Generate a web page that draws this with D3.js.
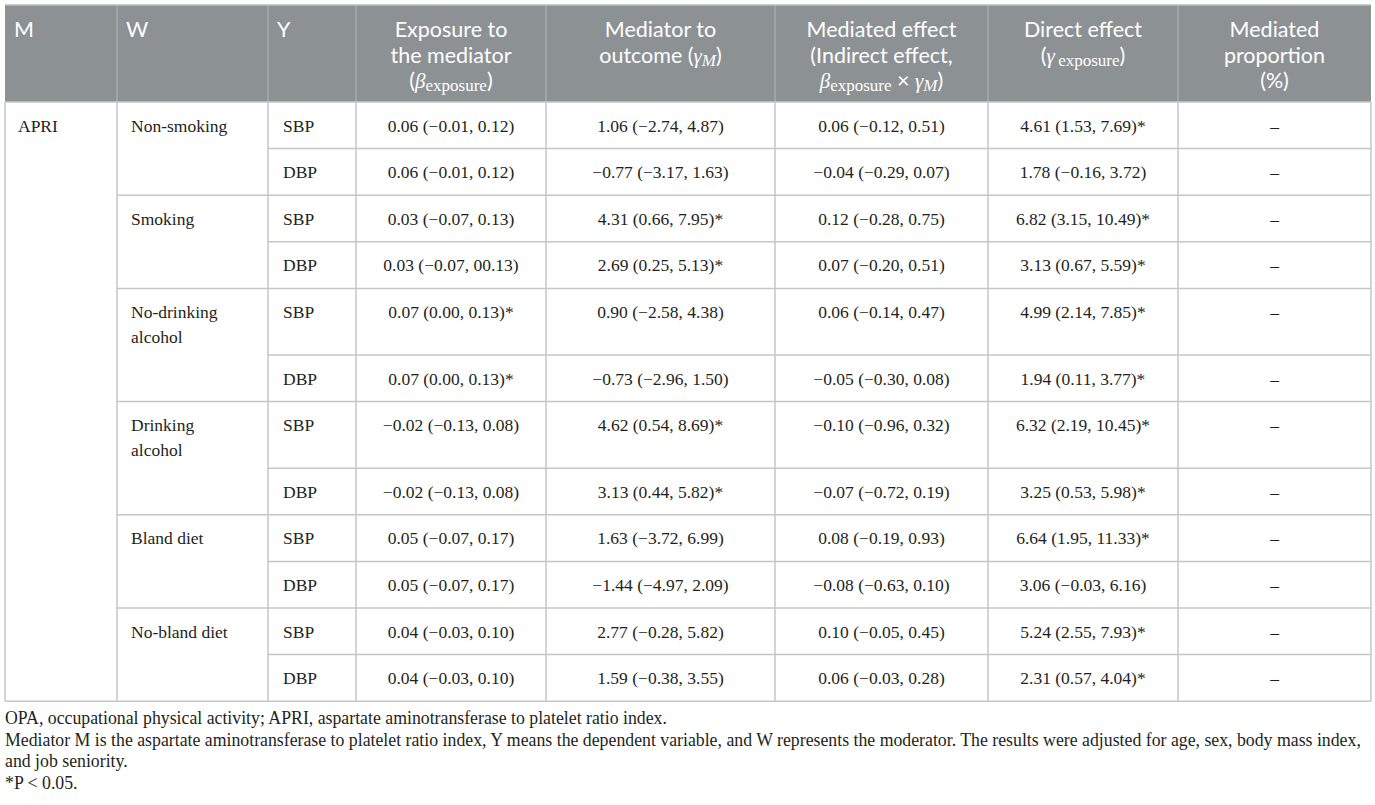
<!DOCTYPE html>
<html>
<head>
<meta charset="utf-8">
<script src="https://cdn.jsdelivr.net/npm/d3@7"></script>
<style>
  html, body { margin: 0; padding: 0; background: #fff; }
  svg { display: block; }
  .serif { font-family: "Liberation Serif", "DejaVu Serif", serif; }
  .sans { font-family: Lato, "Noto Sans", sans-serif; }
</style>
</head>
<body>
<div id="table"></div>
<script>
// Table content
const mediator = "APRI";
const moderators = [["Non-smoking"], ["Smoking"], ["No-drinking", "alcohol"], ["Drinking", "alcohol"], ["Bland diet"], ["No-bland diet"]];
const outcomes = ["SBP", "DBP"];

const exposureToMediator = [
  "0.06 (\u22120.01, 0.12)", "0.06 (\u22120.01, 0.12)",
  "0.03 (\u22120.07, 0.13)", "0.03 (\u22120.07, 00.13)",
  "0.07 (0.00, 0.13)*", "0.07 (0.00, 0.13)*",
  "\u22120.02 (\u22120.13, 0.08)", "\u22120.02 (\u22120.13, 0.08)",
  "0.05 (\u22120.07, 0.17)", "0.05 (\u22120.07, 0.17)",
  "0.04 (\u22120.03, 0.10)", "0.04 (\u22120.03, 0.10)"
];
const mediatorToOutcome = [
  "1.06 (\u22122.74, 4.87)", "\u22120.77 (\u22123.17, 1.63)",
  "4.31 (0.66, 7.95)*", "2.69 (0.25, 5.13)*",
  "0.90 (\u22122.58, 4.38)", "\u22120.73 (\u22122.96, 1.50)",
  "4.62 (0.54, 8.69)*", "3.13 (0.44, 5.82)*",
  "1.63 (\u22123.72, 6.99)", "\u22121.44 (\u22124.97, 2.09)",
  "2.77 (\u22120.28, 5.82)", "1.59 (\u22120.38, 3.55)"
];
const mediatedEffect = [
  "0.06 (\u22120.12, 0.51)", "\u22120.04 (\u22120.29, 0.07)",
  "0.12 (\u22120.28, 0.75)", "0.07 (\u22120.20, 0.51)",
  "0.06 (\u22120.14, 0.47)", "\u22120.05 (\u22120.30, 0.08)",
  "\u22120.10 (\u22120.96, 0.32)", "\u22120.07 (\u22120.72, 0.19)",
  "0.08 (\u22120.19, 0.93)", "\u22120.08 (\u22120.63, 0.10)",
  "0.10 (\u22120.05, 0.45)", "0.06 (\u22120.03, 0.28)"
];
const directEffect = [
  "4.61 (1.53, 7.69)*", "1.78 (\u22120.16, 3.72)",
  "6.82 (3.15, 10.49)*", "3.13 (0.67, 5.59)*",
  "4.99 (2.14, 7.85)*", "1.94 (0.11, 3.77)*",
  "6.32 (2.19, 10.45)*", "3.25 (0.53, 5.98)*",
  "6.64 (1.95, 11.33)*", "3.06 (\u22120.03, 6.16)",
  "5.24 (2.55, 7.93)*", "2.31 (0.57, 4.04)*"
];
const mediatedProportion = ["\u2013", "\u2013", "\u2013", "\u2013", "\u2013", "\u2013", "\u2013", "\u2013", "\u2013", "\u2013", "\u2013", "\u2013"];

// header lines, each line is a list of [text, kind]
const headerLines = [
  [[["M", "s"]]],
  [[["W", "s"]]],
  [[["Y", "s"]]],
  [[["Exposure to", "s"]], [["the mediator", "s"]], [["(", "s"], ["\u03b2", "g"], ["exposure", "sub"], [")", "s"]]],
  [[["Mediator to", "s"]], [["outcome (", "s"], ["\u03b3", "g"], ["M", "subi"], [")", "s"]]],
  [[["Mediated effect", "s"]], [["(Indirect effect,", "s"]], [["\u03b2", "g"], ["exposure", "sub"], [" \u00d7 ", "s"], ["\u03b3", "g"], ["M", "subi"], [")", "s"]]],
  [[["Direct effect", "s"]], [["(", "s"], ["\u03b3", "g"], ["\u2009exposure", "sub"], [")", "s"]]],
  [[["Mediated", "s"]], [["proportion", "s"]], [["(%)", "s"]]]
];

const footnotes = [
  "OPA, occupational physical activity; APRI, aspartate aminotransferase to platelet ratio index.",
  "Mediator M is the aspartate aminotransferase to platelet ratio index, Y means the dependent variable, and W represents the moderator. The results were adjusted for age, sex, body mass index,",
  "and job seniority.",
  "*P < 0.05."
];

// Layout
const width = 1375, height = 805;
const colEdges = [5, 117, 268, 356, 546, 775, 988, 1178, 1371];
const headerTop = 5, headerBottom = 102;
const rowH = 46.6, extraLine = 20;
const headerBg = "#8c9194";
const gridColor = "#c6c6c6";
const textColor = "#231f20";

// build rows
const rows = [];
moderators.forEach((w, gi) => {
  outcomes.forEach((y, oi) => {
    const i = gi * 2 + oi;
    rows.push({
      i, group: gi, first: oi === 0,
      w: oi === 0 ? w : [],
      y,
      values: [exposureToMediator[i], mediatorToOutcome[i], mediatedEffect[i], directEffect[i], mediatedProportion[i]]
    });
  });
});

// row tops via cumulative heights
let acc = headerBottom;
rows.forEach(r => {
  r.top = acc;
  r.h = rowH + (r.w.length > 1 ? extraLine * (r.w.length - 1) : 0);
  acc += r.h;
});
const tableBottom = acc;

const colX = d3.scaleOrdinal().domain(d3.range(8)).range(colEdges.slice(0, 8));
const colW = d3.scaleOrdinal().domain(d3.range(8)).range(d3.range(8).map(i => colEdges[i + 1] - colEdges[i]));
const rowY = d3.scaleOrdinal().domain(rows.map(r => r.i)).range(rows.map(r => r.top));

const svg = d3.select('#table').append('svg')
  .attr('width', width)
  .attr('height', height);

// header background
svg.append('rect')
  .attr('x', colEdges[0]).attr('y', headerTop)
  .attr('width', colEdges[8] - colEdges[0]).attr('height', headerBottom - headerTop)
  .attr('fill', headerBg);

// header dividers
svg.append('g').selectAll('line')
  .data(colEdges.slice(1, 8))
  .join('line')
  .attr('x1', d => d).attr('x2', d => d)
  .attr('y1', headerTop).attr('y2', headerBottom)
  .attr('stroke', '#a7abae').attr('stroke-width', 1.5);

// header text, one text element per cell
const kindStyle = {
  s:    { cls: 'sans',  size: 21.5, style: 'normal', shift: 0 },
  g:    { cls: 'serif', size: 21, style: 'italic', shift: 0 },
  sub:  { cls: 'serif', size: 17, style: 'normal', shift: 3 },
  subi: { cls: 'serif', size: 17, style: 'italic', shift: 3 }
};
const headLine = 25.5;

headerLines.forEach((lines, ci) => {
  const centered = ci >= 3;
  const x = centered ? colX(ci) + colW(ci) / 2 : colX(ci) + 9;
  const t = svg.append('text')
    .attr('class', 'sans')
    .attr('x', x)
    .attr('y', headerTop + 32)
    .attr('text-anchor', centered ? 'middle' : 'start')
    .attr('fill', '#fff')
    .attr('font-size', 21.5)
    .attr('font-weight', 400);
  let shift = 0;
  lines.forEach((segs, li) => {
    segs.forEach(([txt, kind], si) => {
      const st = kindStyle[kind];
      const ts = t.append('tspan')
        .attr('class', st.cls)
        .attr('font-size', st.size)
        .attr('font-style', st.style)
        .style('white-space', 'pre')
        .text(txt);
      if (si === 0) {
        ts.attr('x', x).attr('dy', (li === 0 ? 0 : headLine) + st.shift - shift);
      } else {
        ts.attr('dy', st.shift - shift);
      }
      shift = st.shift;
    });
  });
});

// top border line
svg.append('line')
  .attr('x1', colEdges[0]).attr('x2', colEdges[8])
  .attr('y1', headerTop).attr('y2', headerTop)
  .attr('stroke', '#b9bcbe').attr('stroke-width', 1.5);

// body grid: horizontal lines
const grid = svg.append('g').attr('stroke', gridColor).attr('stroke-width', 1.5);
grid.selectAll('line.h')
  .data(rows.slice(1))
  .join('line')
  .attr('class', 'h')
  .attr('x1', d => d.first ? colEdges[1] : colEdges[2])
  .attr('x2', colEdges[8])
  .attr('y1', d => rowY(d.i)).attr('y2', d => rowY(d.i));

// vertical lines
grid.selectAll('line.v')
  .data(colEdges)
  .join('line')
  .attr('class', 'v')
  .attr('x1', d => d).attr('x2', d => d)
  .attr('y1', headerBottom).attr('y2', tableBottom);

// header bottom and table bottom
grid.append('line')
  .attr('x1', colEdges[0]).attr('x2', colEdges[8])
  .attr('y1', headerBottom).attr('y2', headerBottom);
grid.append('line')
  .attr('x1', colEdges[0]).attr('x2', colEdges[8])
  .attr('y1', tableBottom).attr('y2', tableBottom);

// body text
const body = svg.append('g').attr('fill', textColor);
const baseOff = 29.5;
const bodySize = 17.5;

body.append('text')
  .attr('class', 'serif')
  .attr('font-size', bodySize)
  .attr('x', colX(0) + 13)
  .attr('y', rowY(0) + baseOff)
  .text(mediator);

// moderator labels
body.selectAll('text.w')
  .data(rows.filter(r => r.first))
  .join('text')
  .attr('class', 'w serif')
  .attr('font-size', bodySize)
  .attr('x', colX(1) + 14)
  .attr('y', d => rowY(d.i) + baseOff)
  .each(function(d) {
    d3.select(this).selectAll('tspan')
      .data(d.w)
      .join('tspan')
      .attr('x', colX(1) + 14)
      .attr('dy', (l, k) => k === 0 ? 0 : 25)
      .text(l => l);
  });

// outcome labels
body.selectAll('text.y')
  .data(rows)
  .join('text')
  .attr('class', 'y serif')
  .attr('font-size', bodySize)
  .attr('x', colX(2) + 15)
  .attr('y', d => rowY(d.i) + baseOff)
  .text(d => d.y);

// value cells
const cells = rows.flatMap(r => r.values.map((v, k) => ({ row: r.i, col: k + 3, v })));
body.selectAll('text.v')
  .data(cells)
  .join('text')
  .attr('class', 'v serif')
  .attr('font-size', bodySize)
  .attr('text-anchor', 'middle')
  .attr('x', d => colX(d.col) + colW(d.col) / 2)
  .attr('y', d => rowY(d.row) + baseOff)
  .text(d => d.v);

// footnotes
const notes = svg.append('g').attr('fill', textColor);
const noteText = notes.selectAll('text')
  .data(footnotes)
  .join('text')
  .attr('class', 'serif')
  .attr('x', 5)
  .attr('y', (d, i) => 724 + i * 21.5)
  .attr('font-size', 16)
  .text(d => d);
// fit the long line to the table width
const longLen = noteText.nodes()[1].getComputedTextLength();
const fs = 16 * 1357 / longLen;
noteText.attr('font-size', fs);
</script>
</body>
</html>
